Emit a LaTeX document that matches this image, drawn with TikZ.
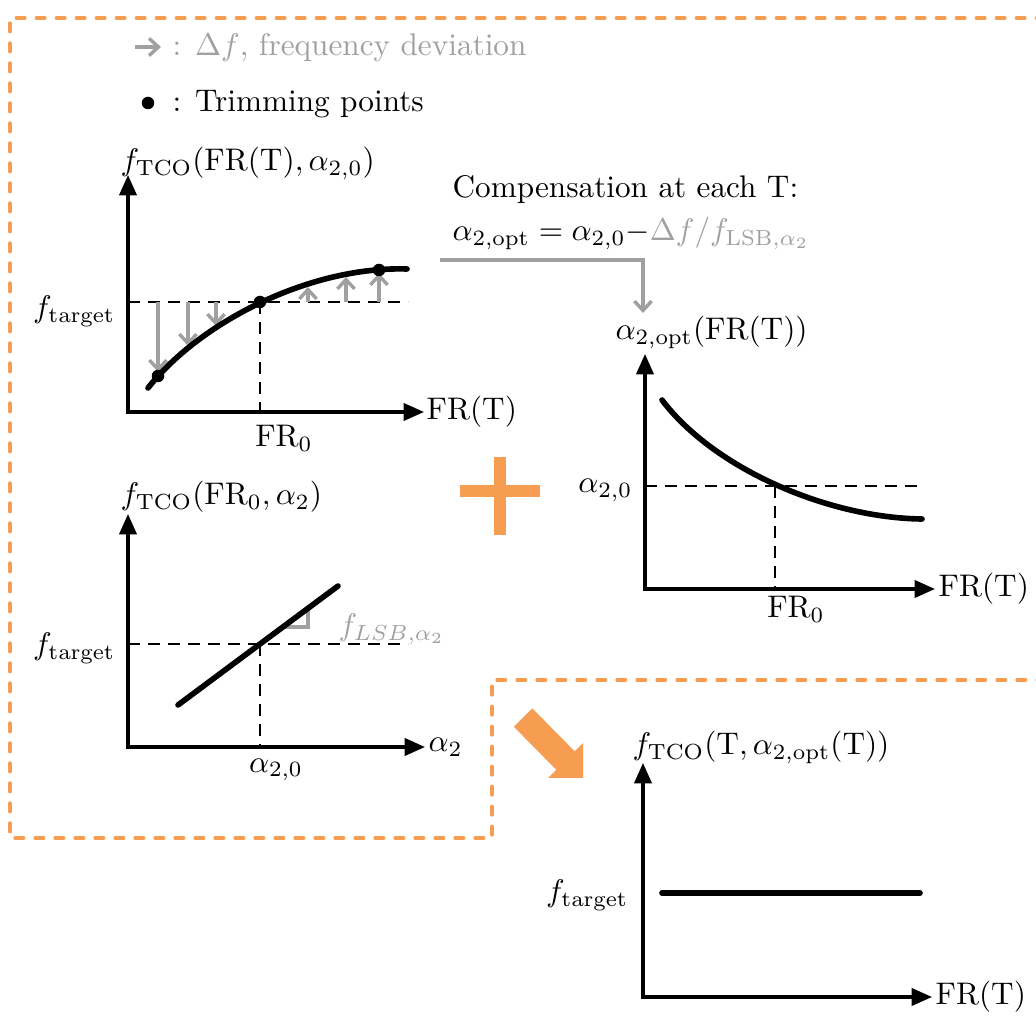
\documentclass[tikz,border=0pt]{standalone}
\usepackage{amsmath, amssymb}
\usepackage{tikz}
\usepackage{amsfonts}
\usetikzlibrary{arrows.meta}
\definecolor{devgray}{RGB}{160,160,160}
\definecolor{markorange}{RGB}{247,157,82}

\begin{document}
\begin{tikzpicture}[x=0.32pt, y=-0.32pt,
		axis/.style={line width=1pt, {Triangle[length=6.5pt,width=5.5pt]}-{Triangle[length=6.5pt,width=5.5pt]}},
		guide/.style={line width=0.65pt, dash pattern=on 3.8pt off 2.6pt},
		curve/.style={line width=1.8pt, line cap=round},
		devarrow/.style={devgray, line width=1.1pt, -{Straight Barb[length=3pt,width=5.5pt]}},
		title/.style={anchor=base west, inner sep=0pt},
		tick/.style={anchor=north, inner sep=0pt},
		level/.style={anchor=base east, inner sep=0pt},
		axlabel/.style={anchor=west, inner sep=0pt},
		frame/.style={markorange, line width=1pt, line cap=round, dash pattern=on 2.8pt off 3.6pt}
	]
	\useasboundingbox (0,0) rectangle (1036,1016);
	
	% Marco discontinuo
	\draw[frame] (1045,18) -- (10,18) -- (10,838) -- (492,838) -- (492,680) -- (1045,680);
	
	% Leyenda
	\draw[devarrow] (135,47) -- (161,47);
	\node[title, text=devgray] (legdev) at (172,56) {: $\Delta f$, frequency deviation};
	\fill (148,103) circle[radius=2pt];
	\node[title] (legtrim) at (172,112) {: Trimming points};
	
	% Curva de calibración en temperatura
	\draw[axis] (128,175) -- (128,412) -- (424,412);
	\node[title] (titleA) at (120,171) {$f_{\mathrm{TCO}}(\mathrm{FR(T)},\alpha_{2,0})$};
	\node[axlabel] (xA) at (426,412) {FR(T)};
	\node[level] (yA) at (116,318) {$f_{\mathrm{target}}$};
	\node[tick] (tA) at (284,425) {$\mathrm{FR}_0$};
	\draw[guide] (128,302) -- (408,302);
	\draw[guide] (260,302) -- (260,412);
	\foreach \x/\y in {158/372, 188/346, 216/326}
		\draw[devarrow] (\x,302) -- (\x,\y);
	\foreach \x/\y in {308/287, 346/277, 379/273}
		\draw[devarrow] (\x,302) -- (\x,\y);
	\draw[curve] (148,388) .. controls (200,322) and (310,266) .. (407,269);
	\foreach \x/\y in {158/376, 260/302, 379/270}
		\fill (\x,\y) circle[radius=2pt];
	
	% Compensación
	\node[title] (comptext) at (452,198) {Compensation at each T:};
	\node[title] (compeq) at (452,241) {$\alpha_{2,\mathrm{opt}}=\alpha_{2,0}{-}\textcolor{devgray}{\Delta f/f_{\mathrm{LSB},\alpha_2}}$};
	\coordinate (compin) at (440,260);
	\coordinate (compout) at (643,313);
	\draw[devarrow] (compin) -| (compout);
	
	% Alfa óptimo
	\draw[axis] (645,354) -- (645,589) -- (935,589);
	\node[title] (titleB) at (615,340) {$\alpha_{2,\mathrm{opt}}(\mathrm{FR(T)})$};
	\node[axlabel] (xB) at (938,589) {FR(T)};
	\node[level] (yB) at (633,493) {$\alpha_{2,0}$};
	\node[tick] (tB) at (796,596) {$\mathrm{FR}_0$};
	\draw[guide] (645,486) -- (922,486);
	\draw[guide] (775,486) -- (775,589);
	\draw[curve] (662,400) .. controls (715,470) and (830,518) .. (922,519);
	
	% Signo más
	\fill[markorange] (460,485) rectangle (540,497);
	\fill[markorange] (494,457) rectangle (506,535);
	
	% Pendiente respecto a alfa
	\draw[axis] (128,514) -- (128,747) -- (425,747);
	\node[title] (titleC) at (120,505) {$f_{\mathrm{TCO}}(\mathrm{FR}_0,\alpha_2)$};
	\node[axlabel] (xC) at (428,747) {$\alpha_2$};
	\node[level] (yC) at (116,655) {$f_{\mathrm{target}}$};
	\node[tick] (tC) at (276,758) {$\alpha_{2,0}$};
	\draw[guide] (128,644) -- (408,644);
	\draw[guide] (260,644) -- (260,747);
	\draw[devgray, line width=1pt] (283,627) -- (308,627) -- (308,608);
	\draw[curve] (178,705) -- (338,586);
	\node[title, text=devgray] (lsb) at (338,636) {$f_{LSB,\alpha_2}$};
	
	% Flecha de resultado
	\fill[markorange] (532.2,708.3) -- (574.7,751.3) -- (583,743) -- (583,778) -- (548,778) -- (556.3,769.7) -- (513.8,726.7) -- cycle;
	
	% Resultado compensado
	\draw[axis] (643,763) -- (643,997) -- (932,997);
	\node[title] (titleD) at (632,755) {$f_{\mathrm{TCO}}(\mathrm{T},\alpha_{2,\mathrm{opt}}(\mathrm{T}))$};
	\node[axlabel] (xD) at (935,997) {FR(T)};
	\node[level] (yD) at (629,902) {$f_{\mathrm{target}}$};
	\draw[curve] (662,893) -- (920,893);
\end{tikzpicture}
\end{document}
